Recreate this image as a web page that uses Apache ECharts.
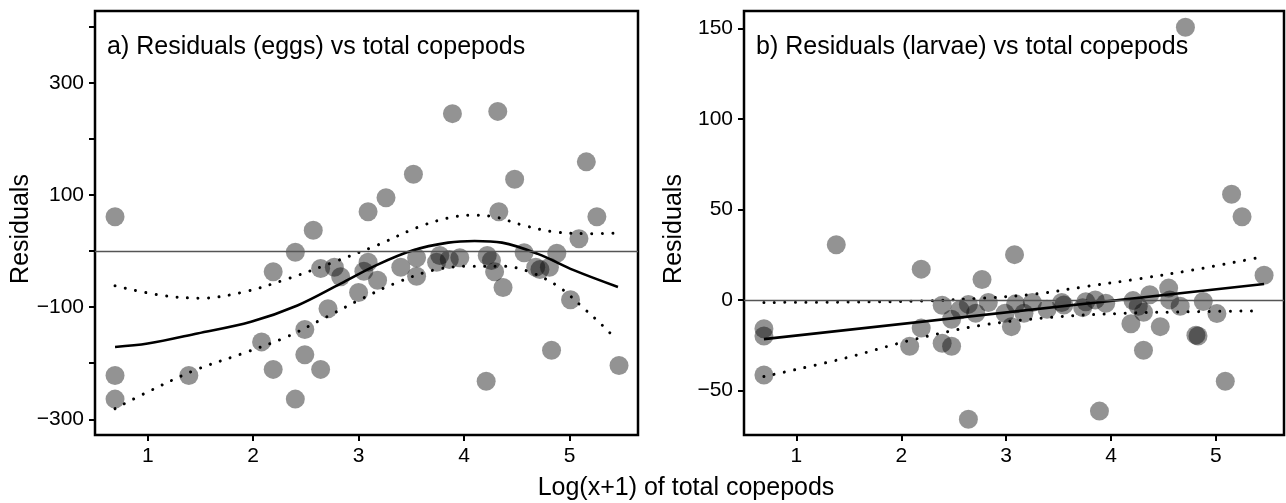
<!DOCTYPE html>
<html>
<head>
<meta charset="utf-8">
<script src="https://cdn.jsdelivr.net/npm/echarts@6/dist/echarts.min.js"></script>
<style>html,body{margin:0;padding:0;background:#fff;}#c{width:1286px;height:503px;}</style>
</head>
<body>
<div id="c"></div>
<script>
// ---- data ----
const panelTitles = ['a) Residuals (eggs) vs total copepods', 'b) Residuals (larvae) vs total copepods'];
const xTitle = 'Log(x+1) of total copepods';
const yTitle = 'Residuals';
const xTicks = [1, 2, 3, 4, 5];
const eggTicks = [-300, -200, -100, 0, 100, 200, 300, 400];
const eggTickLabels = [-300, -100, 100, 300];
const larvTicks = [-50, 0, 50, 100, 150];

const eggsX = [0.69,0.69,0.69,1.39,2.08,2.19,2.19,2.40,2.40,2.49,2.49,2.57,2.64,2.64,2.71,2.77,2.83,3.00,3.05,3.09,3.09,3.18,3.26,3.40,3.52,3.55,3.55,3.74,3.77,3.86,3.89,3.96,4.21,4.22,4.26,4.29,4.32,4.33,4.37,4.48,4.57,4.68,4.72,4.81,4.83,4.88,5.01,5.09,5.16,5.26,5.47];
const eggsY = [61,-222,-264,-222,-162,-37,-211,-2,-264,-140,-185,37,-211,-31,-103,-29,-46,-74,-36,-20,70,-52,95,-29,137,-45,-12,-20,-8,-15,245,-12,-232,-8,-17,-37,249,70,-65,128,-3,-29,-33,-29,-177,-4,-87,22,159,61,-204];

const eggFitX = [0.69,1.0,1.47,1.98,2.42,2.83,3.17,3.51,3.85,4.10,4.36,4.70,5.04,5.46];
const eggFitY = [-171,-165,-147,-126,-97,-58,-25,1,15,18,15,-5,-34,-64];
const eggUpX = [0.69,1.13,1.51,1.91,2.32,2.76,3.17,3.57,3.85,4.07,4.29,4.56,4.86,5.20,5.46];
const eggUpY = [-62,-79,-84,-73,-50,-20,10,43,59,64,61,46,34,31,32];
const eggLoX = [0.69,0.97,1.44,1.91,2.32,2.69,3.03,3.34,3.71,4.05,4.36,4.62,4.90,5.14,5.31,5.45];
const eggLoY = [-281,-254,-213,-182,-153,-118,-85,-58,-34,-27,-27,-37,-64,-103,-132,-159];

const larvX = [0.69,0.69,0.69,1.38,2.08,2.19,2.19,2.39,2.39,2.48,2.48,2.56,2.64,2.64,2.71,2.77,2.83,2.99,3.05,3.08,3.09,3.17,3.25,3.39,3.53,3.55,3.73,3.76,3.85,3.89,3.95,4.19,4.21,4.26,4.31,4.31,4.37,4.47,4.55,4.56,4.66,4.71,4.81,4.83,4.88,5.01,5.09,5.15,5.25,5.46];
const larvY = [-16,-20,-41.5,30.5,-25.6,17,-15.6,-3,-24,-10.7,-25.6,-5.5,-2.5,-66,-7.4,11.3,-1.5,-7.4,-14.8,25,-2.2,-7.4,-1.5,-5.2,-1.5,-2.8,-4.3,-1,0,-61.5,-1.9,-13.2,-0.4,-3.5,-6.8,-27.8,2.8,-14.8,6.5,0,-3.5,150.7,-19.5,-20,-0.9,-7.6,-45,58.4,46,13.6];

const larvFitX = [0.69, 5.46];
const larvFitY = [-21.7, 8.8];
const larvUpX = [0.69,1.5,2.21,2.77,3.29,3.76,4.25,4.80,5.42];
const larvUpY = [-1.4,-1.2,-0.6,0.9,3.3,7.4,11.5,16.7,23.5];
const larvLoX = [0.69,1.45,2.11,2.77,3.44,4.13,4.83,5.42];
const larvLoY = [-42.4,-32.4,-22,-14,-9.6,-7.4,-6.5,-6.1];

// ---- helpers ----
const zip = (xs, ys) => xs.map((x, i) => [x, ys[i]]);
const FONT = 'Liberation Sans';
const fmt = v => (v < 0 ? '\u2212' + Math.abs(v) : String(v));

function xAxisCfg(gi) {
  return {
    type: 'value', gridIndex: gi, min: 0.5, max: 5.65, position: 'bottom',
    axisLine: { show: false, onZero: false },
    splitLine: { show: false },
    axisTick: { show: true, inside: false, length: 6, lineStyle: { color: '#000', width: 2 }, customValues: xTicks },
    axisLabel: { show: true, margin: 11, color: '#000', fontFamily: FONT, fontSize: 21, customValues: xTicks, formatter: fmt }
  };
}
function yAxisCfg(gi, min, max, ticks, labels) {
  return {
    type: 'value', gridIndex: gi, min: min, max: max, position: 'left',
    axisLine: { show: false, onZero: false },
    splitLine: { show: false },
    axisTick: { show: true, inside: false, length: 6, lineStyle: { color: '#000', width: 2 }, customValues: ticks },
    axisLabel: { show: true, margin: 11, color: '#000', fontFamily: FONT, fontSize: 21, customValues: labels, formatter: fmt }
  };
}
function pointsSeries(gi, xs, ys) {
  return {
    type: 'scatter', xAxisIndex: gi, yAxisIndex: gi, data: zip(xs, ys),
    symbol: 'circle', symbolSize: 19,
    itemStyle: { color: 'rgba(0,0,0,0.53)', borderWidth: 0 },
    silent: true, z: 2,
    markLine: {
      silent: true, symbol: ['none', 'none'], label: { show: false },
      lineStyle: { color: '#555', width: 1.3, type: 'solid' },
      data: [{ yAxis: 0 }], animation: false
    }
  };
}
function lineSeries(gi, xs, ys, dotted) {
  return {
    type: 'line', xAxisIndex: gi, yAxisIndex: gi, data: zip(xs, ys),
    showSymbol: false, smooth: 0.35, silent: true, z: 3,
    lineStyle: dotted
      ? { color: '#000', width: 3, type: [0.01, 10.5], cap: 'round' }
      : { color: '#000', width: 2.6, type: 'solid' }
  };
}

const chart = echarts.init(document.getElementById('c'), null, { renderer: 'canvas' });
chart.setOption({
  animation: false,
  backgroundColor: '#fff',
  grid: [
    { left: 95, top: 11, width: 543, height: 424, show: true, borderColor: '#000', borderWidth: 2.5, backgroundColor: 'transparent' },
    { left: 744, top: 11, width: 540, height: 424, show: true, borderColor: '#000', borderWidth: 2.5, backgroundColor: 'transparent' }
  ],
  xAxis: [xAxisCfg(0), xAxisCfg(1)],
  yAxis: [
    yAxisCfg(0, -328, 428, eggTicks, eggTickLabels),
    yAxisCfg(1, -74.7, 159.7, larvTicks, larvTicks)
  ],
  series: [
    pointsSeries(0, eggsX, eggsY),
    lineSeries(0, eggFitX, eggFitY, false),
    lineSeries(0, eggUpX, eggUpY, true),
    lineSeries(0, eggLoX, eggLoY, true),
    pointsSeries(1, larvX, larvY),
    lineSeries(1, larvFitX, larvFitY, false),
    lineSeries(1, larvUpX, larvUpY, true),
    lineSeries(1, larvLoX, larvLoY, true)
  ],
  graphic: [
    { type: 'text', left: 107, top: 35, style: { text: panelTitles[0], fontFamily: FONT, fontSize: 25, fill: '#000' }, z: 10 },
    { type: 'text', left: 756, top: 35, style: { text: panelTitles[1], fontFamily: FONT, fontSize: 25, fill: '#000' }, z: 10 },
    { type: 'text', x: 21, y: 229, rotation: Math.PI / 2, style: { text: yTitle, fontFamily: FONT, fontSize: 25, fill: '#000', align: 'center', verticalAlign: 'middle' }, z: 10 },
    { type: 'text', x: 674, y: 229, rotation: Math.PI / 2, style: { text: yTitle, fontFamily: FONT, fontSize: 25, fill: '#000', align: 'center', verticalAlign: 'middle' }, z: 10 },
    { type: 'text', x: 686, y: 488, style: { text: xTitle, fontFamily: FONT, fontSize: 25, fill: '#000', align: 'center', verticalAlign: 'middle' }, z: 10 }
  ]
});
</script>
</body>
</html>
